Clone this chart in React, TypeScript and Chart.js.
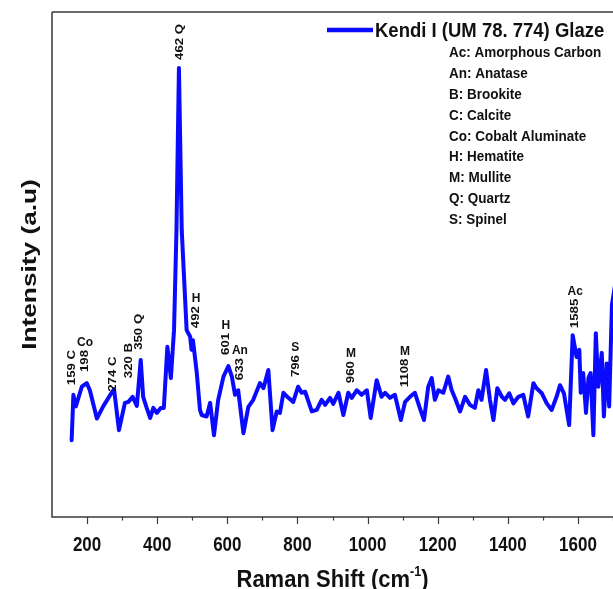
import React, { useEffect, useRef } from 'react';
import { Chart, registerables } from 'chart.js';

Chart.register(...registerables);

// Spectrum: Raman shift (cm-1) and intensity (arbitrary units)
const ramanShift = [
  156, 161, 168, 185, 199, 208, 228, 246, 270, 277,
  291, 308, 318, 330, 342, 353, 360, 370, 380, 389,
  399, 410, 419, 429, 439, 448, 455, 462, 470, 484,
  494, 498, 502, 513, 522, 527, 541, 551, 562, 574,
  589, 603, 613, 622, 631, 646, 660, 674, 693, 703,
  717, 729, 741, 750, 760, 774, 788, 802, 812, 822,
  841, 855, 869, 879, 893, 902, 917, 931, 945, 955,
  969, 983, 998, 1009, 1026, 1040, 1050, 1064, 1078, 1095,
  1107, 1121, 1135, 1148, 1161, 1173, 1183, 1192, 1202, 1216,
  1230, 1240, 1249, 1264, 1278, 1292, 1306, 1316, 1325, 1338,
  1349, 1359, 1370, 1383, 1392, 1404, 1416, 1430, 1444, 1458,
  1473, 1482, 1497, 1511, 1525, 1539, 1549, 1560, 1575, 1585,
  1596, 1604, 1608, 1615, 1623, 1630, 1636, 1644, 1651, 1658,
  1668, 1674, 1682, 1689, 1697, 1706,
];
const intensity = [
  15.2, 24.2, 21.9, 25.8, 26.5, 25.1, 19.5, 21.9, 24.6, 25.3,
  17.2, 22.6, 22.8, 23.8, 22.0, 31.1, 23.8, 21.6, 19.6, 21.6,
  20.6, 21.6, 21.6, 33.7, 27.5, 37.0, 56.8, 88.9, 56.8, 37.0,
  35.7, 33.1, 35.0, 28.5, 21.2, 20.2, 19.9, 22.6, 16.2, 23.2,
  27.8, 29.9, 27.8, 24.2, 25.1, 16.6, 21.8, 23.2, 26.5, 25.5,
  29.1, 17.2, 20.9, 20.6, 24.6, 23.6, 22.8, 25.8, 24.6, 24.8,
  20.9, 21.2, 23.2, 22.2, 23.6, 22.4, 24.6, 20.2, 24.6, 23.6,
  25.1, 24.2, 25.1, 19.6, 27.1, 23.8, 24.6, 23.6, 24.2, 19.2,
  22.8, 23.8, 24.6, 21.8, 19.2, 25.8, 27.5, 23.2, 25.1, 24.6,
  27.8, 25.1, 23.6, 20.9, 23.8, 22.2, 21.6, 25.1, 23.2, 29.1,
  23.2, 19.2, 25.5, 23.8, 23.2, 24.5, 22.5, 23.8, 24.2, 19.9,
  26.5, 25.5, 24.5, 22.5, 21.2, 23.8, 26.1, 24.5, 18.2, 36.0,
  31.7, 33.1, 24.6, 28.5, 20.6, 27.5, 28.5, 16.2, 36.4, 25.8,
  32.5, 19.9, 30.4, 21.9, 42.0, 46.0,
];

const xMin = 100;
const xMax = 1700;
const yMin = 0;
const yMax = 100;
const xMajorTicks = [200, 400, 600, 800, 1000, 1200, 1400, 1600];
const xMinorTicks = [300, 500, 700, 900, 1100, 1300, 1500, 1700];

// Peak labels written fully rotated ("159 C")
const rotLabelText = ['159 C', '274 C', '320 B', '350 Q', '462 Q'];
const rotLabelX = [157, 274, 318, 348, 464];
const rotLabelY = [26.1, 24.8, 27.5, 33.1, 90.5];

// Peak labels with a horizontal tag above a rotated number
const tagText = ['Co', 'H', 'H', 'An', 'S', 'M', 'M', 'Ac'];
const tagNumber = ['198', '492', '601', '633', '796', '960', '1108', '1585'];
const tagX = [194, 511, 596, 636, 794, 953, 1107, 1592];
const tagY = [28.7, 37.4, 32.1, 27.1, 27.7, 26.5, 25.7, 37.4];

const seriesName = 'Kendi I (UM 78. 774) Glaze';
const legendNotes = [
  'Ac: Amorphous Carbon',
  'An: Anatase',
  'B: Brookite',
  'C: Calcite',
  'Co: Cobalt Aluminate',
  'H: Hematite',
  'M: Mullite',
  'Q: Quartz',
  'S: Spinel',
];
const xTitle = 'Raman Shift (cm';
const xTitleSup = '-1';
const yTitle = 'Intensity (a.u)';

const FONT = '"Liberation Sans", Arial, sans-serif';
const BLUE = '#0a0aff';
const INK = '#111111';

type TOpts = {
  rotate?: boolean;
  sx?: number;
  sy?: number;
  align?: CanvasTextAlign;
  baseline?: CanvasTextBaseline;
};

function drawText(ctx: CanvasRenderingContext2D, text: string, x: number, y: number, size: number, o: TOpts = {}) {
  ctx.save();
  ctx.translate(x, y);
  if (o.rotate) ctx.rotate(-Math.PI / 2);
  ctx.scale(o.sx ?? 1, o.sy ?? 1);
  ctx.font = `bold ${size}px ${FONT}`;
  ctx.fillStyle = INK;
  ctx.textAlign = o.align ?? 'left';
  ctx.textBaseline = o.baseline ?? 'alphabetic';
  ctx.fillText(text, 0, 0);
  ctx.restore();
}

function textWidth(ctx: CanvasRenderingContext2D, text: string, size: number) {
  ctx.save();
  ctx.font = `bold ${size}px ${FONT}`;
  const w = ctx.measureText(text).width;
  ctx.restore();
  return w;
}

const decorPlugin = {
  id: 'decor',
  afterDraw(chart: any) {
    const ctx: CanvasRenderingContext2D = chart.ctx;
    const ca = chart.chartArea;
    const xs = chart.scales.x;
    const ys = chart.scales.y;

    // Frame (top, left, bottom)
    ctx.save();
    ctx.strokeStyle = '#3a3a3a';
    ctx.lineWidth = 1.5;
    ctx.beginPath();
    ctx.moveTo(ca.left, ca.top);
    ctx.lineTo(ca.right + 2, ca.top);
    ctx.moveTo(ca.left, ca.top);
    ctx.lineTo(ca.left, ca.bottom);
    ctx.lineTo(ca.right + 2, ca.bottom);
    ctx.stroke();
    // ticks
    ctx.lineWidth = 1.2;
    ctx.beginPath();
    xMajorTicks.forEach((v) => {
      const px = Math.round(xs.getPixelForValue(v)) + 0.5;
      ctx.moveTo(px, ca.bottom);
      ctx.lineTo(px, ca.bottom + 7);
    });
    xMinorTicks.forEach((v) => {
      const px = Math.round(xs.getPixelForValue(v)) + 0.5;
      ctx.moveTo(px, ca.bottom);
      ctx.lineTo(px, ca.bottom + 3.5);
    });
    ctx.stroke();
    ctx.restore();

    // Tick labels
    xMajorTicks.forEach((v) => {
      drawText(ctx, String(v), xs.getPixelForValue(v), ca.bottom + 34, 17, { sy: 1.2, align: 'center' });
    });

    // X title with superscript
    const tSize = 22;
    const supSize = 12.5;
    const w1 = textWidth(ctx, xTitle, tSize);
    const w2 = textWidth(ctx, xTitleSup, supSize);
    const w3 = textWidth(ctx, ')', tSize);
    const total = w1 + w2 + w3;
    const cx = (ca.left + ca.right) / 2;
    const base = ca.bottom + 70;
    let sxp = cx - total / 2;
    drawText(ctx, xTitle, sxp, base, tSize, { sy: 1.12 });
    sxp += w1;
    drawText(ctx, xTitleSup, sxp, base - 11, supSize, { sy: 1.12 });
    sxp += w2;
    drawText(ctx, ')', sxp, base, tSize, { sy: 1.12 });

    // Y title
    drawText(ctx, yTitle, 30, (ca.top + ca.bottom) / 2, 21, {
      rotate: true,
      sx: 1.25,
      align: 'center',
      baseline: 'middle',
    });

    // Rotated peak labels
    const aSize = 11.5;
    const aStretch = 1.15;
    rotLabelText.forEach((t, i) => {
      drawText(ctx, t, xs.getPixelForValue(rotLabelX[i]), ys.getPixelForValue(rotLabelY[i]), aSize, {
        rotate: true,
        sx: aStretch,
        baseline: 'middle',
      });
    });
    tagText.forEach((t, i) => {
      const px = xs.getPixelForValue(tagX[i]);
      const py = ys.getPixelForValue(tagY[i]);
      drawText(ctx, tagNumber[i], px, py, aSize, { rotate: true, sx: aStretch, baseline: 'middle' });
      const len = textWidth(ctx, tagNumber[i], aSize) * aStretch;
      drawText(ctx, t, px, py - len - 4, aSize + 0.5, { align: 'center', sy: 1.1 });
    });

    // Legend
    ctx.save();
    ctx.strokeStyle = BLUE;
    ctx.lineWidth = 4.5;
    ctx.beginPath();
    ctx.moveTo(327, 30);
    ctx.lineTo(373, 30);
    ctx.stroke();
    ctx.restore();
    drawText(ctx, seriesName, 375, 36.5, 18.5, { sy: 1.08 });
    legendNotes.forEach((t, i) => {
      drawText(ctx, t, 449, 57.3 + i * 20.8, 13.5, { sy: 1.05 });
    });
  },
};

export default function App() {
  const ref = useRef<HTMLCanvasElement | null>(null);
  useEffect(() => {
    if (!ref.current) return;
    const points = ramanShift.map((x, i) => ({ x, y: intensity[i] }));
    const chart = new Chart(ref.current, {
      type: 'line',
      data: {
        datasets: [
          {
            label: seriesName,
            data: points,
            borderColor: BLUE,
            backgroundColor: BLUE,
            borderWidth: 4,
            pointRadius: 0,
            tension: 0,
            borderJoinStyle: 'round',
            borderCapStyle: 'round',
          },
        ],
      },
      options: {
        animation: false,
        responsive: true,
        maintainAspectRatio: false,
        layout: { padding: { left: 52, top: 12, right: 0, bottom: 72 } },
        plugins: { legend: { display: false }, tooltip: { enabled: false } },
        scales: {
          x: { type: 'linear', min: xMin, max: xMax, display: false },
          y: { type: 'linear', min: yMin, max: yMax, display: false },
        },
      },
      plugins: [decorPlugin],
    });
    return () => chart.destroy();
  }, []);
  return (
    <div style={{ position: 'fixed', left: 0, top: 0, width: 613, height: 589, background: '#fff' }}>
      <canvas ref={ref} />
    </div>
  );
}
